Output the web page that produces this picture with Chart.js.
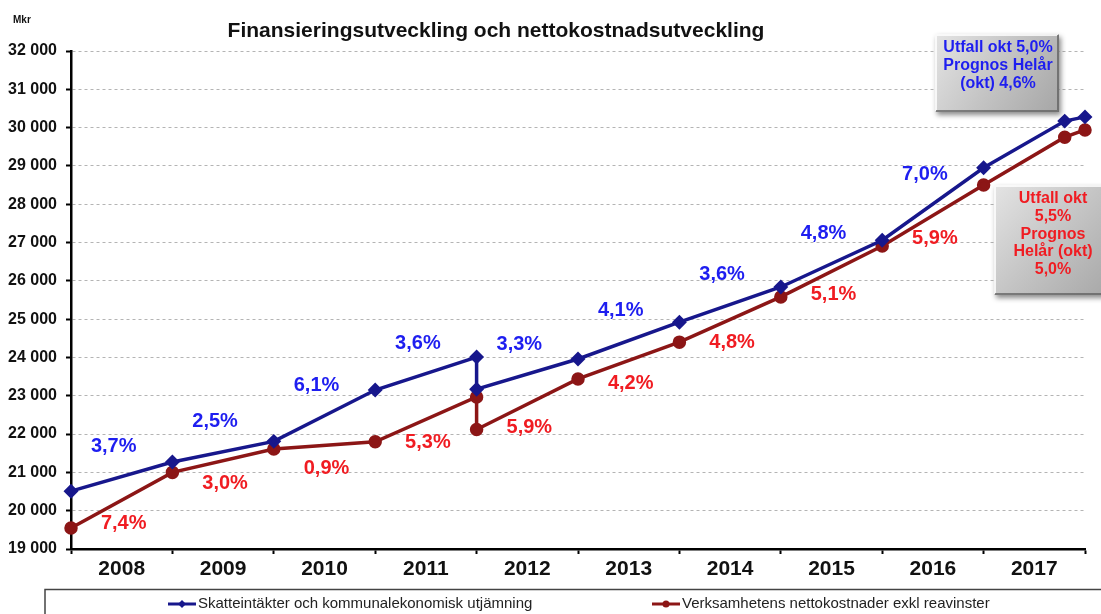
<!DOCTYPE html>
<html>
<head>
<meta charset="utf-8">
<script src="https://cdn.jsdelivr.net/npm/chart.js@4/dist/chart.umd.min.js"></script>
<style>
  body { margin: 0; background: #fff; }
  #wrap { width: 1101px; height: 614px; }
</style>
</head>
<body>
<div id="wrap"><canvas id="grafFinans" width="1101" height="614"></canvas></div>
<script>
// år (kategorier på x-axeln)
var ar = ['2008', '2009', '2010', '2011', '2012', '2013', '2014', '2015', '2016', '2017'];
// punkternas läge på x-axeln (gräns mellan åren)
var punktX = [0, 1, 2, 3, 4, 4, 5, 6, 7, 8, 9, 9.8, 10];
// Mkr
var skatteintakter = [20510, 21270, 21810, 23150, 24010, 23170, 23960, 24920, 25840, 27060, 28950, 30170, 30280];
var nettokostnader = [19550, 21000, 21610, 21800, 22970, 22120, 23440, 24400, 25580, 26910, 28500, 29750, 29940];
// utveckling per år
var utvSkatt = ['3,7%', '2,5%', '6,1%', '3,6%', '3,3%', '4,1%', '3,6%', '4,8%', '7,0%'];
var utvNetto = ['7,4%', '3,0%', '0,9%', '5,3%', '5,9%', '4,2%', '4,8%', '5,1%', '5,9%'];
// rutor med text
var rutaSkatt = ['Utfall okt 5,0%', 'Prognos Helår', '(okt) 4,6%'];
var rutaNetto = ['Utfall okt', '5,5%', 'Prognos', 'Helår (okt)', '5,0%'];

var legendNamn = ['Skatteintäkter och kommunalekonomisk utjämning', 'Verksamhetens nettokostnader exkl reavinster'];

var BLA_LINJE = '#17178c';
var ROD_LINJE = '#8c1616';
var BLA_TEXT = '#1e1ef0';
var ROD_TEXT = '#f01c22';
var FONT = '"Liberation Sans", Arial, sans-serif';

function tillPunkter(varden) {
    var lista = [];
    for (var i = 0; i < varden.length; i++) {
        lista.push({ x: punktX[i], y: varden[i] });
    }
    return lista;
}

// y-värde på linjen vid ett visst x
function vardeVid(varden, x) {
    for (var i = 0; i < punktX.length - 1; i++) {
        var a = punktX[i], b = punktX[i + 1];
        if (a < b && x >= a && x <= b) {
            return varden[i] + (varden[i + 1] - varden[i]) * (x - a) / (b - a);
        }
    }
    return null;
}

function formatTal(v) {
    return String(v).replace(/\B(?=(\d{3})+(?!\d))/g, ' ');
}

function ritaRuta(ctx, x, y, w, h, rader, farg, cx, forstaY, radH, storlek) {
    ctx.save();
    ctx.shadowColor = 'rgba(0,0,0,0.45)';
    ctx.shadowBlur = 5;
    ctx.shadowOffsetX = 2;
    ctx.shadowOffsetY = 3;
    var g = ctx.createLinearGradient(x, y, x + w, y + h);
    g.addColorStop(0, '#e4e4e4');
    g.addColorStop(0.5, '#c4c4c4');
    g.addColorStop(1, '#a6a6a6');
    ctx.fillStyle = g;
    ctx.fillRect(x, y, w, h);
    ctx.restore();
    // fasade kanter
    ctx.save();
    ctx.strokeStyle = 'rgba(255,255,255,0.8)';
    ctx.lineWidth = 2;
    ctx.beginPath();
    ctx.moveTo(x + 1, y + h - 1); ctx.lineTo(x + 1, y + 1); ctx.lineTo(x + w - 1, y + 1);
    ctx.stroke();
    ctx.strokeStyle = 'rgba(90,90,90,0.7)';
    ctx.beginPath();
    ctx.moveTo(x + w - 1, y + 1); ctx.lineTo(x + w - 1, y + h - 1); ctx.lineTo(x + 1, y + h - 1);
    ctx.stroke();
    ctx.fillStyle = farg;
    ctx.font = 'bold ' + storlek + 'px ' + FONT;
    ctx.textAlign = 'center';
    ctx.textBaseline = 'middle';
    for (var i = 0; i < rader.length; i++) {
        ctx.fillText(rader[i], cx, forstaY + i * radH);
    }
    ctx.restore();
}

var extraRitning = {
    id: 'extraRitning',
    afterDatasetsDraw: function(chart) {
        var ctx = chart.ctx;
        var xs = chart.scales.x2;
        var ys = chart.scales.y;
        ctx.save();
        ctx.font = 'bold 20px ' + FONT;
        ctx.textAlign = 'center';
        ctx.textBaseline = 'middle';
        for (var i = 0; i < utvSkatt.length; i++) {
            var mx = i + 0.5;
            var px = xs.getPixelForValue(mx);
            ctx.fillStyle = BLA_TEXT;
            ctx.fillText(utvSkatt[i], px - 8, ys.getPixelForValue(vardeVid(skatteintakter, mx)) - 30);
            ctx.fillStyle = ROD_TEXT;
            ctx.fillText(utvNetto[i], px + 2, ys.getPixelForValue(vardeVid(nettokostnader, mx)) + 23);
        }
        ctx.restore();
    },
    afterDraw: function(chart) {
        var ctx = chart.ctx;
        ctx.save();
        // rubrik
        ctx.fillStyle = '#111';
        ctx.font = 'bold 21px ' + FONT;
        ctx.textAlign = 'center';
        ctx.textBaseline = 'middle';
        ctx.fillText('Finansieringsutveckling och nettokostnadsutveckling', 496, 31);
        ctx.font = 'bold 10px ' + FONT;
        ctx.textAlign = 'left';
        ctx.fillText('Mkr', 13, 20);

        // rutor
        ritaRuta(ctx, 935, 34, 124, 78, rutaSkatt, BLA_TEXT, 998, 48, 18, 16);
        ritaRuta(ctx, 994, 185, 120, 110, rutaNetto, ROD_TEXT, 1053, 199, 17.6, 16);

        // teckenförklaring
        ctx.strokeStyle = '#444';
        ctx.lineWidth = 1.5;
        ctx.strokeRect(45, 589.5, 1080, 40);
        ctx.font = '15px ' + FONT;
        ctx.textBaseline = 'middle';
        var poster = [
            { x: 168, farg: BLA_LINJE, stil: 'romb' },
            { x: 652, farg: ROD_LINJE, stil: 'cirkel' }
        ];
        for (var i = 0; i < poster.length; i++) {
            var p = poster[i];
            var ly = 604;
            ctx.strokeStyle = p.farg;
            ctx.lineWidth = 3;
            ctx.beginPath();
            ctx.moveTo(p.x, ly);
            ctx.lineTo(p.x + 28, ly);
            ctx.stroke();
            ctx.fillStyle = p.farg;
            ctx.beginPath();
            if (p.stil === 'romb') {
                ctx.moveTo(p.x + 14, ly - 4); ctx.lineTo(p.x + 18, ly);
                ctx.lineTo(p.x + 14, ly + 4); ctx.lineTo(p.x + 10, ly);
            } else {
                ctx.arc(p.x + 14, ly, 3.5, 0, Math.PI * 2);
            }
            ctx.fill();
            ctx.fillStyle = '#222';
            ctx.fillText(legendNamn[i], p.x + 30, ly);
        }
        ctx.restore();
    }
};

var ctx = document.getElementById('grafFinans').getContext('2d');
var myChart = new Chart(ctx, {
    type: 'line',
    data: {
        labels: ar,
        datasets: [{
            label: legendNamn[0],
            data: tillPunkter(skatteintakter),
            xAxisID: 'x2',
            borderColor: BLA_LINJE,
            backgroundColor: BLA_LINJE,
            borderWidth: 3.5,
            pointStyle: 'rectRot',
            pointRadius: 5,
            fill: false,
            tension: 0,
            clip: false
        }, {
            label: legendNamn[1],
            data: tillPunkter(nettokostnader),
            xAxisID: 'x2',
            borderColor: ROD_LINJE,
            backgroundColor: ROD_LINJE,
            borderWidth: 3.5,
            pointStyle: 'circle',
            pointRadius: 5,
            fill: false,
            tension: 0,
            clip: false
        }]
    },
    options: {
        responsive: false,
        animation: false,
        layout: { padding: { left: 0, right: 16, top: 51, bottom: 0 } },
        plugins: {
            legend: { display: false },
            title: { display: false },
            tooltip: { enabled: false }
        },
        scales: {
            x: {
                type: 'category',
                offset: true,
                grid: {
                    offset: true,
                    drawOnChartArea: false,
                    drawTicks: true,
                    tickLength: 5,
                    tickWidth: 2,
                    tickColor: '#000'
                },
                border: { display: true, color: '#000', width: 2.5 },
                ticks: {
                    color: '#111',
                    padding: 3,
                    maxRotation: 0,
                    font: { family: FONT, size: 21, weight: 'bold' }
                },
                afterFit: function(scale) { scale.height = 65; }
            },
            x2: {
                type: 'linear',
                display: false,
                min: 0,
                max: 10
            },
            y: {
                min: 19000,
                max: 32000,
                grid: {
                    color: '#b4b4b4',
                    lineWidth: 1,
                    drawTicks: true,
                    tickLength: 5,
                    tickWidth: 2,
                    tickColor: '#000',
                    tickBorderDash: []
                },
                border: { display: true, color: '#000', width: 2.5, dash: [3, 3] },
                ticks: {
                    stepSize: 1000,
                    color: '#111',
                    padding: 9,
                    font: { family: FONT, size: 16, weight: 'bold' },
                    callback: function(v) { return formatTal(v); }
                },
                afterFit: function(scale) { scale.width = 71; }
            }
        }
    },
    plugins: [extraRitning]
});
</script>
</body>
</html>
